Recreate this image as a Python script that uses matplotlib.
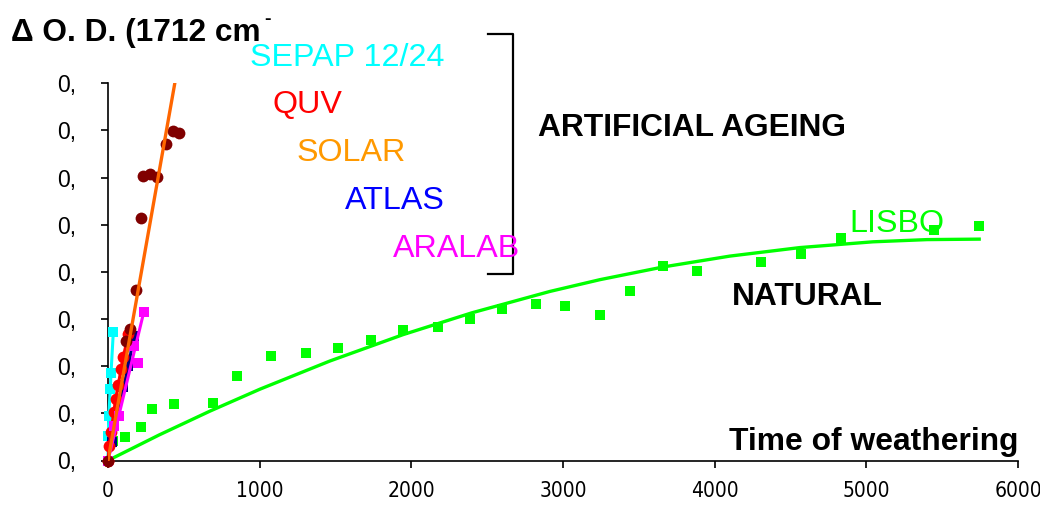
import numpy as np
import matplotlib
matplotlib.use('Agg')
from matplotlib import pyplot as plt
from matplotlib import font_manager
from matplotlib.lines import Line2D

plt.rcParams['font.family'] = ['Liberation Sans', 'DejaVu Sans']

# natural weathering, Lisbon (hours, delta O.D.)
lisbo_t = [0, 35, 112, 216, 288, 437, 690, 853, 1074, 1305, 1518, 1732, 1947, 2173, 2386,
           2595, 2820, 3013, 3243, 3441, 3661, 3885, 4303, 4566, 4830, 5445, 5744]
lisbo_od = [0, 0.0041, 0.0050, 0.0072, 0.0110, 0.0119, 0.0121, 0.0180, 0.0221, 0.0227, 0.0238,
            0.0255, 0.0277, 0.0283, 0.0301, 0.0321, 0.0331, 0.0328, 0.0308, 0.0359, 0.0413,
            0.0402, 0.0421, 0.0439, 0.0471, 0.0489, 0.0497]
# trend curve
lisbo_fit_t = [0, 336, 672, 1002, 1463, 1945, 2400, 2914, 3243, 3659, 4100, 4562, 5043, 5400, 5744]
lisbo_fit_od = [0, 0.0054, 0.01047, 0.01513, 0.0211, 0.02669, 0.03133, 0.03586, 0.03835, 0.04104,
                0.04335, 0.04516, 0.04638, 0.04685, 0.04695]

# artificial ageing
sepap_t = [0, 2, 5, 15, 20, 35]
sepap_od = [0, 0.0052, 0.0095, 0.0152, 0.0186, 0.0272]

quv_t = [0, 8, 20, 38, 50, 68, 86, 100, 135]
quv_od = [0, 0.0030, 0.0060, 0.0102, 0.0130, 0.0161, 0.0194, 0.0219, 0.0268]

solar_t = [0, 119, 145, 185, 218, 231, 277, 323, 382, 428, 468]
solar_od = [0, 0.0253, 0.0278, 0.0361, 0.0514, 0.0603, 0.0607, 0.0601, 0.0671, 0.0699, 0.0694]
solar_fit_t = [0, 442]
solar_fit_od = [0, 0.0803]

atlas_t = [0, 25, 60, 100, 135, 170]
atlas_od = [0, 0.0040, 0.0095, 0.0155, 0.0200, 0.0265]

aralab_t = [0, 38, 71, 170, 199, 236]
aralab_od = [0, 0.0073, 0.0094, 0.0243, 0.0207, 0.0315]
aralab_fit_t = [0, 236]
aralab_fit_od = [0, 0.0315]

xticks = [0, 1000, 2000, 3000, 4000, 5000, 6000]
yticks = [0, 0.01, 0.02, 0.03, 0.04, 0.05, 0.06, 0.07, 0.08]

W, H = 1040, 507


def fx(px):
    return px / W


def fy(py):
    return 1 - py / H


# narrow font for the x tick labels, whatever is installed
fonts = font_manager.fontManager.ttflist
names = set(f.name for f in fonts)
if 'Liberation Sans Narrow' in names:
    narrow = dict(family=['Liberation Sans Narrow'], size=17)
elif any(f.name == 'DejaVu Sans' and f.stretch == 'condensed' for f in fonts):
    narrow = dict(family=['DejaVu Sans'], stretch='condensed', size=15)
else:
    narrow = dict(family=['Liberation Sans'], size=15)

fig = plt.figure(figsize=(10.4, 5.07), dpi=100)
ax = fig.add_axes([fx(108), fy(460.5), fx(1018) - fx(108), fy(83.3) - fy(460.5)])

ax.plot(lisbo_fit_t, lisbo_fit_od, color='#00FF00', lw=2.4, zorder=2, solid_joinstyle='round')
ax.plot(lisbo_t, lisbo_od, 's', color='#00FF00', ms=7.5, mew=0, zorder=3, clip_on=False)

ax.plot(sepap_t, sepap_od, '-s', color='#00FFFF', lw=2.2, ms=7, mew=0, zorder=4, clip_on=False)
ax.plot(atlas_t, atlas_od, '-s', color='#000080', lw=2.2, ms=6.5, mew=0, zorder=4, clip_on=False)
ax.plot(quv_t, quv_od, '-o', color='#FF0000', lw=2.2, ms=8.5, mew=0, zorder=5, clip_on=False)
ax.plot(aralab_fit_t, aralab_fit_od, color='#FF00FF', lw=2.2, zorder=5)
ax.plot(aralab_t, aralab_od, 's', color='#FF00FF', ms=7.5, mew=0, zorder=5, clip_on=False)
ax.plot(solar_t, solar_od, 'o', color='#800000', ms=8.5, mew=0, zorder=6, clip_on=False)
ax.plot(solar_fit_t, solar_fit_od, color='#FF6600', lw=2.4, zorder=7)

ax.set_xlim(0, 6000)
ax.set_ylim(0, 0.08)
ax.set_xticks(xticks)
ax.set_xticklabels([str(v) for v in xticks])
ax.set_yticks(yticks)
ax.set_yticklabels(['0,'] * len(yticks))
for lab in ax.get_xticklabels():
    lab.set_fontproperties(font_manager.FontProperties(**narrow))
ax.tick_params(axis='y', direction='out', length=5, width=1.2, pad=18, labelsize=16.5)
ax.tick_params(axis='x', direction='out', length=5, width=1.2, pad=10)
for s in ['top', 'right']:
    ax.spines[s].set_visible(False)
for s in ['left', 'bottom']:
    ax.spines[s].set_linewidth(1.2)

# texts
fig.text(fx(11), fy(41), '\u0394 O. D. (1712 cm', fontsize=22.8, fontweight='bold', va='baseline')
fig.text(fx(264), fy(24), '-', fontsize=14, fontweight='bold', va='baseline')
fig.text(fx(250), fy(66), 'SEPAP 12/24', color='#00FFFF', fontsize=23.2, va='baseline')
fig.text(fx(272), fy(113), 'QUV', color='#FF0000', fontsize=23.2, va='baseline')
fig.text(fx(297), fy(161), 'SOLAR', color='#FF9900', fontsize=23.2, va='baseline')
fig.text(fx(345), fy(209), 'ATLAS', color='#0000FF', fontsize=23.2, va='baseline')
fig.text(fx(393), fy(257), 'ARALAB', color='#FF00FF', fontsize=23.2, va='baseline')
fig.text(fx(849), fy(232), 'LISBO', color='#00FF00', fontsize=23.2, va='baseline')
fig.text(fx(538), fy(136), 'ARTIFICIAL AGEING', fontsize=22.9, fontweight='bold', va='baseline')
fig.text(fx(732), fy(305), 'NATURAL', fontsize=22.9, fontweight='bold', va='baseline')
fig.text(fx(729), fy(450), 'Time of weathering', fontsize=22.9, fontweight='bold', va='baseline')

# bracket around the artificial ageing labels
fig.add_artist(Line2D([fx(488), fx(513), fx(513), fx(488)], [fy(34), fy(34), fy(274), fy(274)],
                      color='black', lw=1.6, transform=fig.transFigure))

fig.savefig('out.png', dpi=100)
